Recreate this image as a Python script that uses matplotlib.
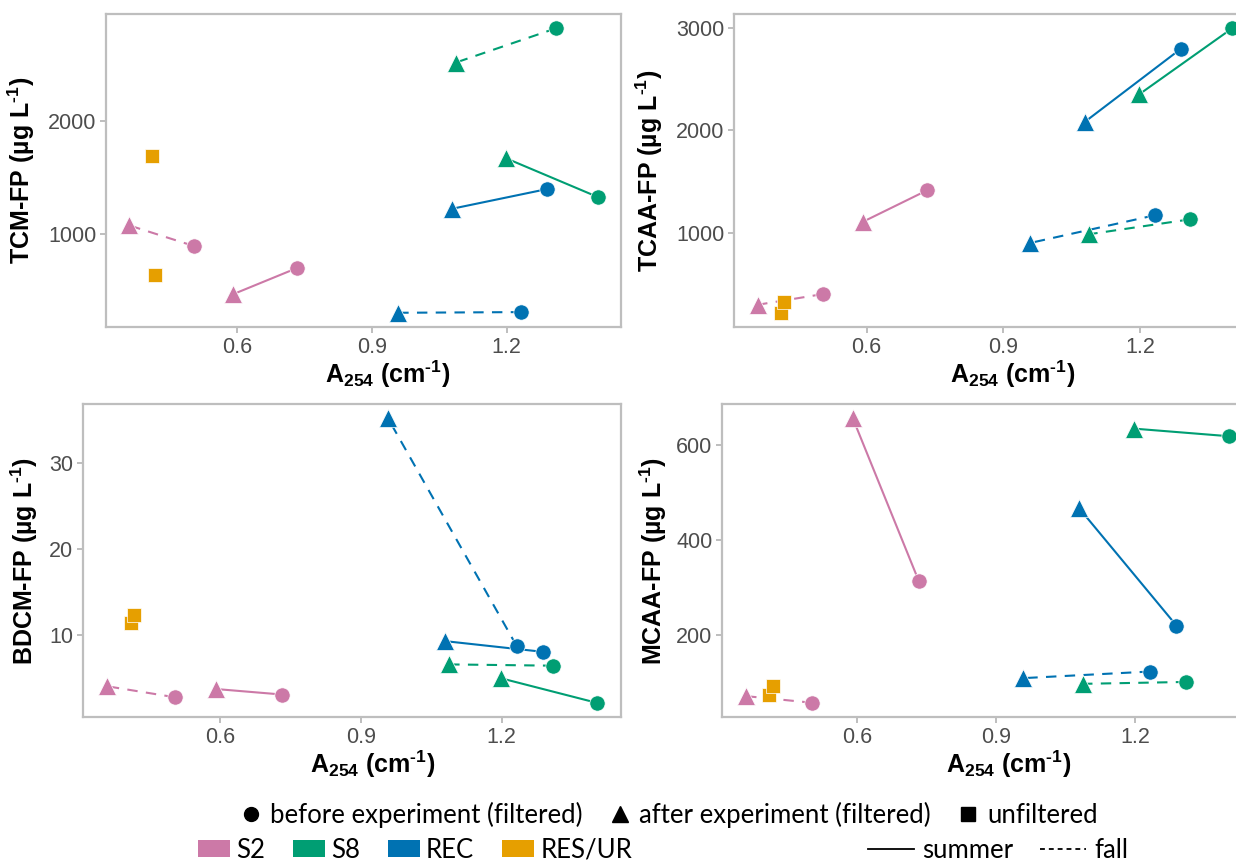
import matplotlib
matplotlib.use("Agg")
import matplotlib.pyplot as plt
from matplotlib.lines import Line2D
from matplotlib.patches import Patch

plt.rcParams["font.family"] = ["Liberation Sans", "DejaVu Sans"]
plt.rcParams["mathtext.fontset"] = "custom"
plt.rcParams["mathtext.rm"] = "Liberation Sans"
plt.rcParams["mathtext.bf"] = "Liberation Sans:bold"
plt.rcParams["mathtext.it"] = "Liberation Sans:italic"

# ---- data -------------------------------------------------------------
sites = ["S2", "S8", "REC"]
site_colors = ["#CC79A7", "#009E73", "#0072B2"]
res_label = "RES/UR"
res_color = "#E69F00"

# A254 (cm-1) of the filtered samples, order follows `sites`
a254_before_summer = [0.733, 1.402, 1.289]
a254_after_summer = [0.591, 1.198, 1.079]
a254_before_fall = [0.504, 1.310, 1.232]
a254_after_fall = [0.361, 1.087, 0.958]
# A254 of the unfiltered RES/UR water: summer, fall
a254_res = [0.411, 0.418]

# TCM-FP (ug/L)
tcm_before_summer = [697, 1326, 1395]
tcm_after_summer = [466, 1668, 1222]
tcm_before_fall = [893, 2816, 309]
tcm_after_fall = [1074, 2513, 303]
tcm_res = [1688, 635]

# TCAA-FP (ug/L)
tcaa_before_summer = [1416, 2993, 2792]
tcaa_after_summer = [1107, 2350, 2083]
tcaa_before_fall = [405, 1133, 1172]
tcaa_after_fall = [301, 987, 902]
tcaa_res = [223, 327]

# BDCM-FP (ug/L)
bdcm_before_summer = [2.99, 2.03, 7.97]
bdcm_after_summer = [3.64, 4.90, 9.23]
bdcm_before_fall = [2.68, 6.36, 8.66]
bdcm_after_fall = [3.95, 6.51, 35.25]
bdcm_res = [11.3, 12.3]

# MCAA-FP (ug/L)
mcaa_before_summer = [314, 619, 219]
mcaa_after_summer = [657, 635, 467]
mcaa_before_fall = [56, 100, 122]
mcaa_after_fall = [70, 96, 108]
mcaa_res = [72, 92]

x_ticks = [0.6, 0.9, 1.2]

# ---- figure -----------------------------------------------------------
W, H = 1236, 863
fig = plt.figure(figsize=(W / 100, H / 100), dpi=100)


def rect(left, right, top, bottom):
    return [left / W, 1 - bottom / H, (right - left) / W, (bottom - top) / H]


panels = [
    ("TCM-FP", rect(106, 621, 14, 327),
     (tcm_before_summer, tcm_after_summer, tcm_before_fall, tcm_after_fall, tcm_res),
     [1000, 2000], (-0.134, 0.5), (0.546, -0.100)),
    ("TCAA-FP", rect(734, 1256, 14, 327),
     (tcaa_before_summer, tcaa_after_summer, tcaa_before_fall, tcaa_after_fall, tcaa_res),
     [1000, 2000, 3000], (-0.132, 0.5), (0.533, -0.100)),
    ("BDCM-FP", rect(83, 621, 404, 717),
     (bdcm_before_summer, bdcm_after_summer, bdcm_before_fall, bdcm_after_fall, bdcm_res),
     [10, 20, 30], (-0.080, 0.5), (0.539, -0.100)),
    ("MCAA-FP", rect(722, 1253, 404, 717),
     (mcaa_before_summer, mcaa_after_summer, mcaa_before_fall, mcaa_after_fall, mcaa_res),
     [200, 400, 600], (-0.100, 0.5), (0.539, -0.100)),
]

frame_gray = "#BEBEBE"
dash = (0, (5, 4))
lw = 1.5
# superscript "-1" drawn with a hyphen rather than a long minus
sup = "$^{\\mathbf{\u20101}}$"


def expanded(values, frac=0.05):
    lo, hi = min(values), max(values)
    pad = (hi - lo) * frac
    return lo - pad, hi + pad


all_a254 = a254_before_summer + a254_after_summer + a254_before_fall + a254_after_fall + a254_res

for name, pos, series, yticks, ylab_xy, xlab_xy in panels:
    before_s, after_s, before_f, after_f, res = series
    ax = fig.add_axes(pos)

    for i, site in enumerate(sites):
        c = site_colors[i]
        for a_b, a_a, v_b, v_a, ls in (
            (a254_before_summer, a254_after_summer, before_s, after_s, "-"),
            (a254_before_fall, a254_after_fall, before_f, after_f, dash),
        ):
            ax.plot([a_b[i], a_a[i]], [v_b[i], v_a[i]], color=c, lw=lw, ls=ls, zorder=2)
            ax.plot(a_b[i], v_b[i], ls="none", marker="o", ms=11, color=c,
                    mec="white", mew=0.5, zorder=3)
            ax.plot(a_a[i], v_a[i], ls="none", marker="^", ms=13, color=c,
                    mec="white", mew=0.5, zorder=3)
    ax.plot(a254_res, res, ls="none", marker="s", ms=10.5, color=res_color,
            mec="white", mew=0.5, zorder=3)

    ax.set_xlim(*expanded(all_a254))
    ax.set_ylim(*expanded(before_s + after_s + before_f + after_f + res))
    ax.set_xticks(x_ticks)
    ax.set_xticklabels([f"{t:.1f}" for t in x_ticks])
    ax.set_yticks(yticks)

    for sp in ax.spines.values():
        sp.set_color(frame_gray)
        sp.set_linewidth(1.6)
    ax.tick_params(axis="both", colors=frame_gray, labelcolor="#4D4D4D",
                   labelsize=15.5, length=4, width=1.4, pad=3)

    ax.set_xlabel(r"$\mathbf{A_{254}}$ (cm" + sup + ")", fontsize=18,
                  fontweight="bold", color="black")
    ax.set_ylabel(name + " (µg L" + sup + ")", fontsize=18,
                  fontweight="bold", color="black")
    ax.yaxis.set_label_coords(*ylab_xy)
    ax.xaxis.set_label_coords(*xlab_xy)

# ---- legends ----------------------------------------------------------
leg_font = {"family": ["Lato", "DejaVu Sans"], "size": 18.5}

shape_handles = [
    Line2D([], [], ls="none", marker="o", ms=10, color="black"),
    Line2D([], [], ls="none", marker="^", ms=12, color="black"),
    Line2D([], [], ls="none", marker="s", ms=10, color="black"),
]
fig.legend(shape_handles,
           ["before experiment (filtered)", "after experiment (filtered)", "unfiltered"],
           loc="center", bbox_to_anchor=(669 / W, 1 - 815 / H), ncol=3, frameon=False,
           prop=leg_font, handlelength=0.8, handletextpad=0.35, columnspacing=1.05,
           borderpad=0)

color_handles = [Patch(facecolor=c, edgecolor="none") for c in site_colors + [res_color]]
fig.legend(color_handles, sites + [res_label],
           loc="center", bbox_to_anchor=(415 / W, 1 - 850 / H), ncol=4, frameon=False,
           prop=leg_font, handlelength=1.25, handleheight=0.6, handletextpad=0.23,
           columnspacing=1.09, borderpad=0)

season_handles = [
    Line2D([], [], color="black", lw=1.3, ls="-"),
    Line2D([], [], color="black", lw=1.3, ls=(0, (2.7, 2.2))),
]
fig.legend(season_handles, ["summer", "fall"],
           loc="center", bbox_to_anchor=(998 / W, 1 - 850 / H), ncol=2, frameon=False,
           prop=leg_font, handlelength=1.8, handletextpad=0.3, columnspacing=1.05,
           borderpad=0)

fig.savefig("out.png", dpi=100)
